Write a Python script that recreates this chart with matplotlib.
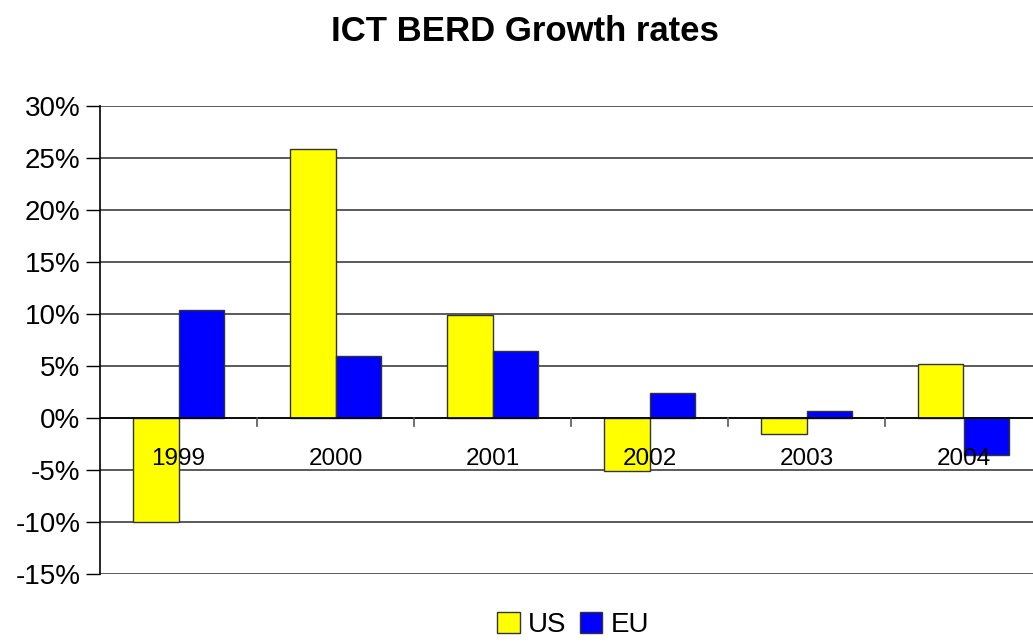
import matplotlib
matplotlib.use("Agg")
import matplotlib.pyplot as plt
import numpy as np
from matplotlib.ticker import FuncFormatter
from matplotlib.patches import Patch

years = ["1999", "2000", "2001", "2002", "2003", "2004"]
us = [-10.0, 25.9, 9.9, -5.1, -1.5, 5.2]
eu = [10.4, 6.0, 6.4, 2.4, 0.7, -3.6]

plt.rcParams['font.family'] = ['Liberation Sans', 'DejaVu Sans']

fig = plt.figure(figsize=(10.33, 6.41), dpi=100)
ax = fig.add_axes([100/1033, 67/641, 942/1033, 468/641])

x = np.arange(len(years))
w = 0.287
ax.bar(x - w/2, us, w, color='#FFFF00', edgecolor='#333333', linewidth=1, zorder=3, label='US')
ax.bar(x + w/2, eu, w, color='#0000FF', edgecolor='#333333', linewidth=1, zorder=3, label='EU')

ax.set_xlim(-0.5, len(years) - 0.5)
ax.set_ylim(-15, 30)
ax.set_yticks(np.arange(-15, 31, 5))
ax.yaxis.set_major_formatter(FuncFormatter(lambda v, p: f"{int(v)}%"))
ax.tick_params(axis='y', labelsize=20, length=10, width=1, direction='out', pad=4)
ax.grid(axis='y', color='#4d4d4d', linewidth=1.3, zorder=1)

for s in ['top', 'right', 'bottom']:
    ax.spines[s].set_visible(False)
ax.spines['left'].set_linewidth(1.2)
ax.spines['left'].set_zorder(5)

# zero line and category ticks
ax.axhline(0, color='black', linewidth=1.2, zorder=4)
ax.set_xticks([])
for b in np.arange(0.5, len(years) - 0.5, 1.0):
    ax.plot([b, b], [0, -0.75], color='#555555', linewidth=1.2, zorder=4, clip_on=False)
for i, yr in enumerate(years):
    ax.text(i, -3.9, yr, ha='center', va='center', fontsize=17.5, zorder=6)

fig.text(0.508, 0.951, "ICT BERD Growth rates", ha='center', va='center', fontsize=25, fontweight='bold')

handles = [Patch(facecolor='#FFFF00', edgecolor='#333333', label='US'),
           Patch(facecolor='#0000FF', edgecolor='#333333', label='EU')]
fig.legend(handles=handles, loc='center', bbox_to_anchor=(0.555, 0.025), ncol=2, frameon=False,
           fontsize=20, handlelength=0.8, handleheight=0.8, handletextpad=0.3, columnspacing=0.5,
           borderpad=0.1)

fig.savefig("out.png", dpi=100)
